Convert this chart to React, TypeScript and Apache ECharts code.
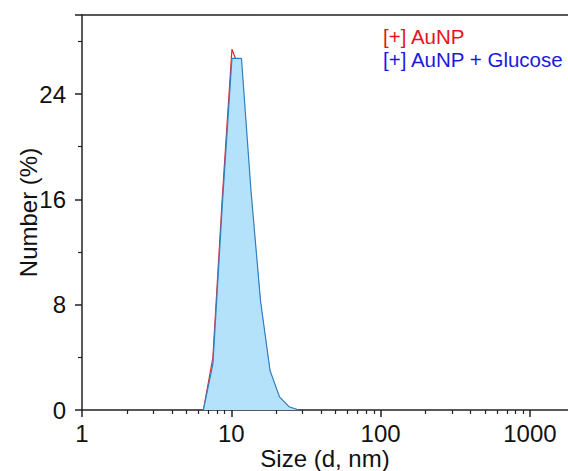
import React, { useEffect, useRef } from "react";
import * as echarts from "echarts";

// Size bins (d, nm)
const sizes = [6.503, 7.531, 8.721, 10.1, 11.7, 13.54, 15.69, 18.17, 21.04, 24.36, 28.21];
// Number (%) values
const aunp = [0, 4.0, 16.3, 27.4, 25.5, 16.0, 8.0, 2.8, 0.9, 0.2, 0];
const aunpGlucose = [0, 3.5, 15.7, 26.7, 26.7, 16.7, 8.3, 3.0, 1.0, 0.25, 0];

const seriesNames = ["[+] AuNP", "[+] AuNP + Glucose"];
const xMajorTicks = [1, 10, 100, 1000];
const xMinorTicks = [2, 3, 4, 5, 6, 7, 8, 9, 20, 30, 40, 50, 60, 70, 80, 90, 200, 300, 400, 500, 600, 700, 800, 900];

const FONT = 'Arial, "Liberation Sans", sans-serif';
const X_MIN = 1;
const X_MAX = 1800;

export default function App() {
  const ref = useRef<HTMLDivElement>(null);
  useEffect(() => {
    if (!ref.current) return;
    const chart = echarts.init(ref.current, null, { renderer: "svg" });
    const toPairs = (vals: number[]) => sizes.map((s, i) => [s, vals[i]]);
    chart.setOption({
      animation: false,
      backgroundColor: "#fff",
      grid: { left: 82, top: 15, right: 0, bottom: 61, containLabel: false, outerBoundsMode: "none" },
      xAxis: [
        {
          type: "log",
          min: X_MIN,
          max: X_MAX,
          logBase: 10,
          position: "bottom",
          name: "Size (d, nm)",
          nameLocation: "middle",
          nameGap: 36,
          nameMoveOverlap: false,
          nameTextStyle: { fontSize: 24, color: "#111", fontFamily: FONT },
          axisLine: { show: true, lineStyle: { color: "#222", width: 1.5 } },
          axisTick: { show: true, inside: false, length: 7, customValues: xMajorTicks, lineStyle: { color: "#222", width: 1.5 } },
          axisLabel: { show: true, margin: 11, fontSize: 24, color: "#111", fontFamily: FONT, customValues: xMajorTicks, formatter: (v: number) => String(Math.round(v)) },
          splitLine: { show: false },
          minorTick: { show: false },
        },
        {
          type: "log",
          min: X_MIN,
          max: X_MAX,
          logBase: 10,
          position: "bottom",
          axisLine: { show: false },
          axisTick: { show: true, inside: false, length: 4, customValues: xMinorTicks, lineStyle: { color: "#222", width: 1.2 } },
          axisLabel: { show: false },
          splitLine: { show: false },
        },
        {
          type: "log",
          min: X_MIN,
          max: X_MAX,
          position: "top",
          axisLine: { show: true, lineStyle: { color: "#222", width: 1.5 } },
          axisTick: { show: false },
          axisLabel: { show: false },
          splitLine: { show: false },
        },
      ],
      yAxis: {
        type: "value",
        min: 0,
        max: 30,
        interval: 8,
        name: "Number (%)",
        nameLocation: "middle",
        nameGap: 42,
        nameMoveOverlap: false,
        nameTextStyle: { fontSize: 24, color: "#111", fontFamily: FONT },
        axisLine: { show: true, lineStyle: { color: "#222", width: 1.5 } },
        axisTick: { show: true, inside: false, length: 7, lineStyle: { color: "#222", width: 1.5 } },
        minorTick: { show: true, splitNumber: 2, length: 4, lineStyle: { color: "#222", width: 1.2 } },
        axisLabel: { margin: 16, fontSize: 24, color: "#111", fontFamily: FONT, showMaxLabel: false },
        splitLine: { show: false },
      },
      graphic: [
        {
          type: "text",
          left: 383,
          top: 26,
          style: { text: seriesNames[0], fill: "#e8141c", fontSize: 20.5, fontFamily: FONT },
        },
        {
          type: "text",
          left: 383,
          top: 49,
          style: { text: seriesNames[1], fill: "#1a1adf", fontSize: 20.5, fontFamily: FONT },
        },
      ],
      series: [
        {
          name: seriesNames[0],
          type: "line",
          xAxisIndex: 0,
          data: toPairs(aunp),
          symbol: "none",
          lineStyle: { color: "#e0262c", width: 1.2 },
          z: 2,
        },
        {
          name: seriesNames[1],
          type: "line",
          xAxisIndex: 0,
          data: toPairs(aunpGlucose),
          symbol: "none",
          lineStyle: { color: "#2f80c0", width: 1.2 },
          areaStyle: { color: "#b5e2fb", opacity: 1 },
          z: 3,
        },
      ],
    });
    return () => chart.dispose();
  }, []);
  return (
    <div
      ref={ref}
      style={{ position: "fixed", left: 0, top: 0, width: 568, height: 471 }}
    />
  );
}
